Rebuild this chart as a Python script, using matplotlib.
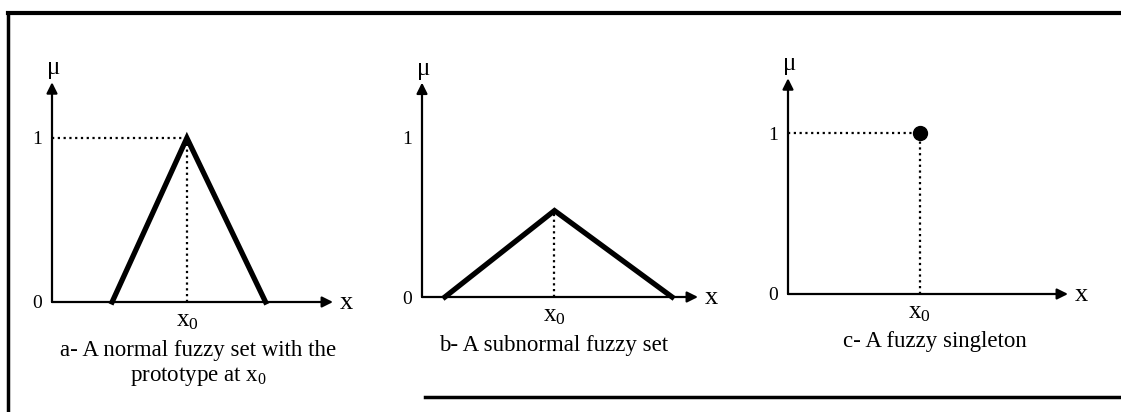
import matplotlib
matplotlib.use("Agg")
import matplotlib.pyplot as plt
from matplotlib.lines import Line2D

plt.rcParams["font.family"] = ["Liberation Serif", "DejaVu Serif"]
plt.rcParams["mathtext.fontset"] = "custom"
plt.rcParams["mathtext.rm"] = "Liberation Serif"
plt.rcParams["mathtext.it"] = "Liberation Serif:italic"

W, H = 1121, 412
DPI = 100

# data (x axis runs 0..10, membership 0..1)
a_x = [2.14, 4.8, 7.6]
a_mu = [0, 1, 0]
b_x = [0.83, 4.8, 9.06]
b_mu = [0, 0.54, 0]
c_x = [4.7]
c_mu = [1]
x_end = 10
y_top = 1.34
captions = ["a- A normal fuzzy set with the\nprototype at x$_0$",
            "b- A subnormal fuzzy set",
            "c- A fuzzy singleton"]

# pixel layout per panel: origin x, arrow tip x, origin y, y of mu=1
panels = [(52, 333, 302, 138), (422, 698, 297, 137), (788, 1068, 294, 133)]
cap_pos = [(198, 364), (554, 345), (935, 342)]

fig = plt.figure(figsize=(W / DPI, H / DPI), dpi=DPI)

dot = dict(color="k", lw=1.6, ls=(0, (1, 1.6)))


def make_axes(x0, x1, y0, y1):
    unit = y0 - y1
    top = y0 - unit * y_top
    ax = fig.add_axes([x0 / W, 1 - y0 / H, (x1 - x0) / W, (y0 - top) / H])
    ax.set_xlim(0, x_end)
    ax.set_ylim(0, y_top)
    for s in ax.spines.values():
        s.set_visible(False)
    ax.patch.set_alpha(0)
    arrow = dict(arrowstyle="-|>", color="k", lw=1.6, mutation_scale=16,
                 shrinkA=0, shrinkB=0)
    ax.annotate("", xy=(x_end, 0), xytext=(0, 0), arrowprops=arrow)
    ax.annotate("", xy=(0, y_top), xytext=(0, 0), arrowprops=arrow)
    ax.annotate("μ", xy=(0, y_top), xytext=(1, 2), textcoords="offset points",
                ha="center", va="bottom", fontsize=18)
    ax.annotate("x", xy=(x_end, 0), xytext=(5, -1), textcoords="offset points",
                ha="left", va="center", fontsize=19)
    ax.set_yticks([0, 1])
    ax.set_yticklabels(["0", "1"], fontsize=14)
    ax.tick_params(axis="y", length=0, pad=7)
    ax.tick_params(axis="x", length=0, pad=6)
    return ax


def set_x0(ax, x0):
    ax.set_xticks([x0])
    ax.set_xticklabels(["x$_0$"], fontsize=18)


# a - normal fuzzy set
ax = make_axes(*panels[0])
ax.plot(a_x, a_mu, color="k", lw=3.8, solid_joinstyle="miter", clip_on=False)
ax.plot([0, a_x[1]], [1, 1], **dot)
ax.plot([a_x[1], a_x[1]], [0, 1], **dot)
set_x0(ax, a_x[1])

# b - subnormal fuzzy set
ax = make_axes(*panels[1])
ax.plot(b_x, b_mu, color="k", lw=3.8, solid_joinstyle="miter", clip_on=False)
ax.plot([b_x[1], b_x[1]], [0, max(b_mu)], **dot)
set_x0(ax, b_x[1])

# c - fuzzy singleton
ax = make_axes(*panels[2])
ax.plot([0, c_x[0]], [c_mu[0], c_mu[0]], **dot)
ax.plot([c_x[0], c_x[0]], [0, c_mu[0]], **dot)
ax.plot(c_x, c_mu, "o", color="k", ms=10, clip_on=False)
set_x0(ax, c_x[0])

for (cx, cy), txt in zip(cap_pos, captions):
    fig.text(cx / W, 1 - cy / H, txt, ha="center", va="center",
             fontsize=16.5, linespacing=1.3)

# scanned frame
fig.add_artist(Line2D([8 / W, 1], [1 - 13 / H, 1 - 13 / H], color="k", lw=3))
fig.add_artist(Line2D([8 / W, 8 / W], [1 - 13 / H, 0], color="k", lw=2.5))
fig.add_artist(Line2D([425 / W, 1], [1 - 397 / H, 1 - 397 / H], color="k", lw=2.5))

fig.savefig("out.png", dpi=DPI)
